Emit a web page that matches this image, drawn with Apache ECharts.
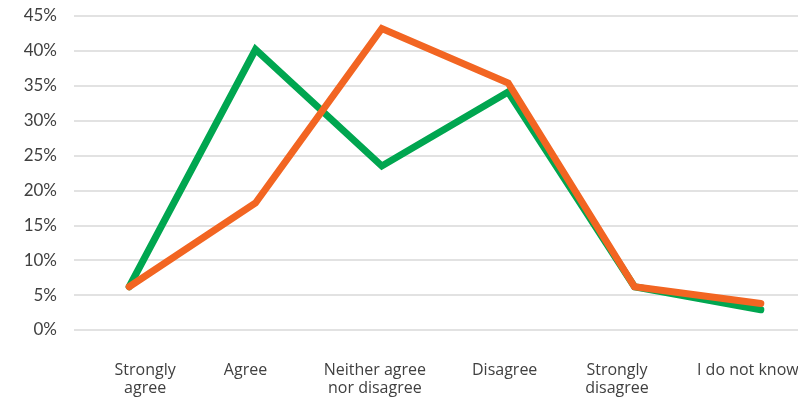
<!DOCTYPE html>
<html>
<head>
<meta charset="utf-8">
<style>html,body{margin:0;padding:0;background:#fff;overflow:hidden}#c{width:830px;height:401px}</style>
<script src="https://cdn.jsdelivr.net/npm/echarts@6/dist/echarts.min.js"></script>
</head>
<body>
<div id="c"></div>
<script>
const categories = ["Strongly\nagree", "Agree", "Neither agree\nnor disagree", "Disagree", "Strongly\ndisagree", "I do not know"];
const greenValues = [6.2, 40.2, 23.5, 34.1, 6.2, 2.9];
const orangeValues = [6.2, 18.2, 43.2, 35.4, 6.2, 3.8];
const yTicks = [0, 5, 10, 15, 20, 25, 30, 35, 40, 45];

// label placement tweaks (px shift of each category label, styling only)
const labelShift = [16, -10, -7, -3.5, -17.5, -13];
const categoryData = categories.map((c, i) => {
  const s = labelShift[i];
  const pad = s >= 0 ? [0, 0, 0, 2 * s] : [0, -2 * s, 0, 0];
  return { value: c, textStyle: { padding: pad } };
});

const yMin = yTicks[0], yMax = yTicks[yTicks.length - 1];

const chart = echarts.init(document.getElementById('c'));
chart.setOption({
  animation: false,
  grid: [
    { left: 66, width: 758, top: 16, bottom: 71, containLabel: false },
    { left: 74, width: 750, top: 16, bottom: 71, containLabel: false }
  ],
  xAxis: [
    {
      type: 'category',
      gridIndex: 0,
      data: categoryData,
      boundaryGap: true,
      axisLine: { show: false },
      axisTick: { show: false },
      axisLabel: {
        color: '#404040',
        fontFamily: 'Open Sans',
        fontSize: 16,
        lineHeight: 18.5,
        margin: 31,
        interval: 0
      }
    },
    {
      type: 'category',
      gridIndex: 1,
      data: categories,
      show: false
    }
  ],
  yAxis: [
    {
      type: 'value',
      gridIndex: 0,
      min: yMin,
      max: yMax,
      interval: 5,
      axisLine: { show: false },
      axisTick: { show: false },
      splitLine: { show: false },
      axisLabel: {
        color: '#404040',
        fontFamily: 'Lato',
        fontSize: 17,
        margin: 9,
        formatter: v => v + '%'
      }
    },
    {
      type: 'value',
      gridIndex: 1,
      min: yMin,
      max: yMax,
      interval: 5,
      axisLine: { show: false },
      axisTick: { show: false },
      axisLabel: { show: false },
      splitLine: { lineStyle: { color: '#D9D9D9', width: 1.5 } }
    }
  ],
  series: [
    {
      type: 'line',
      xAxisIndex: 0,
      yAxisIndex: 0,
      data: greenValues,
      symbol: 'none',
      z: 3,
      lineStyle: { color: '#00A650', width: 7, cap: 'round', join: 'miter' },
      itemStyle: { color: '#00A650' }
    },
    {
      type: 'line',
      xAxisIndex: 0,
      yAxisIndex: 0,
      data: orangeValues,
      symbol: 'none',
      z: 4,
      lineStyle: { color: '#F26522', width: 7, cap: 'round', join: 'miter' },
      itemStyle: { color: '#F26522' }
    }
  ]
});
</script>
</body>
</html>
